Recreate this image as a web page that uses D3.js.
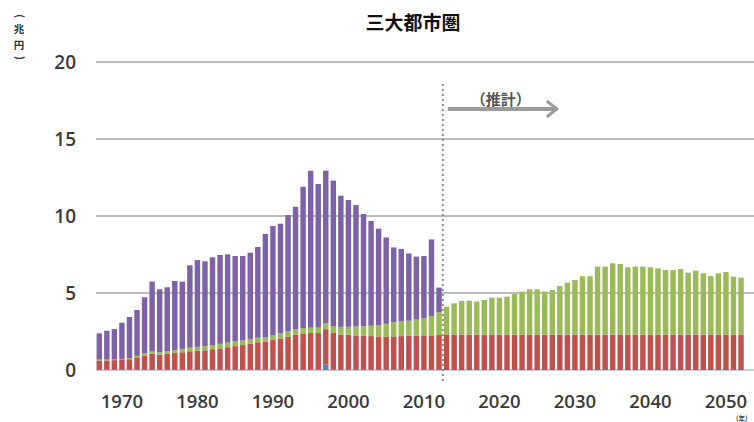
<!DOCTYPE html>
<html>
<head>
<meta charset="utf-8">
<script src="https://cdn.jsdelivr.net/npm/d3@7"></script>
<style>
  body { margin: 0; background: #fff; }
  svg { display: block; }
</style>
</head>
<body>
<svg width="754" height="422"></svg>
<script>
// years 1967-2052, actual values up to 2012, estimate from 2013
var years = d3.range(1967, 2053);
var lastActual = 2012;

// layer values (兆円), bottom to top
var blueVals = [
  0.06, 0.06, 0.06, 0.06, 0.06, 0.06, 0.06, 0.06, 0.06, 0.06,
  0.06, 0.06, 0.06, 0.06, 0.06, 0.06, 0.06, 0.06, 0.06, 0.06,
  0.06, 0.06, 0.06, 0.06, 0.06, 0.06, 0.06, 0.06, 0.06, 0.06,
  0.35, 0.06, 0.06, 0.06, 0.06, 0.06, 0.06, 0.06, 0.06, 0.06,
  0.06, 0.06, 0.06, 0.06, 0.06, 0.06,
  0, 0, 0, 0, 0, 0, 0, 0, 0, 0, 0, 0, 0, 0, 0, 0, 0, 0, 0, 0,
  0, 0, 0, 0, 0, 0, 0, 0, 0, 0, 0, 0, 0, 0, 0, 0, 0, 0, 0, 0
];
var redVals = [
  0.56, 0.56, 0.58, 0.59, 0.64, 0.76, 0.89, 0.99, 0.94, 0.99,
  1.04, 1.09, 1.16, 1.19, 1.22, 1.29, 1.34, 1.42, 1.49, 1.56,
  1.66, 1.74, 1.79, 1.89, 1.99, 2.09, 2.24, 2.32, 2.34, 2.34,
  2.30, 2.34, 2.24, 2.22, 2.19, 2.16, 2.14, 2.12, 2.11, 2.12,
  2.14, 2.16, 2.16, 2.19, 2.19, 2.21,
  2.3, 2.3, 2.3, 2.3, 2.3, 2.3, 2.3, 2.3, 2.3, 2.3,
  2.3, 2.3, 2.3, 2.3, 2.3, 2.3, 2.3, 2.3, 2.3, 2.3,
  2.3, 2.3, 2.3, 2.3, 2.3, 2.3, 2.3, 2.3, 2.3, 2.3,
  2.3, 2.3, 2.3, 2.3, 2.3, 2.3, 2.3, 2.3, 2.3, 2.3
];
var greenVals = [
  0.06, 0.06, 0.06, 0.07, 0.08, 0.10, 0.13, 0.15, 0.15, 0.17,
  0.18, 0.20, 0.23, 0.25, 0.27, 0.27, 0.30, 0.30, 0.30, 0.30,
  0.30, 0.30, 0.27, 0.30, 0.33, 0.35, 0.35, 0.34, 0.35, 0.35,
  0.40, 0.45, 0.50, 0.52, 0.57, 0.63, 0.68, 0.74, 0.83, 0.92,
  0.95, 0.98, 1.06, 1.10, 1.25, 1.48,
  1.81, 2.03, 2.18, 2.20, 2.14, 2.25, 2.40, 2.40, 2.46, 2.64,
  2.79, 2.94, 2.94, 2.79, 2.89, 3.15, 3.37, 3.54, 3.79, 3.79,
  4.41, 4.41, 4.63, 4.58, 4.37, 4.41, 4.41, 4.37, 4.30, 4.19,
  4.19, 4.25, 4.02, 4.15, 3.98, 3.80, 3.98, 4.06, 3.76, 3.70
];
var purpleVals = [
  1.70, 1.87, 1.96, 2.35, 2.66, 2.98, 3.64, 4.54, 4.09, 4.15,
  4.50, 4.39, 5.35, 5.64, 5.51, 5.70, 5.77, 5.73, 5.55, 5.48,
  5.60, 5.89, 6.71, 7.10, 7.12, 7.56, 7.95, 9.18, 10.19, 9.33,
  9.89, 9.45, 8.52, 8.24, 7.89, 7.28, 6.80, 6.26, 5.61, 4.86,
  4.71, 4.37, 4.08, 4.05, 4.98, 1.60,
  0, 0, 0, 0, 0, 0, 0, 0, 0, 0, 0, 0, 0, 0, 0, 0, 0, 0, 0, 0,
  0, 0, 0, 0, 0, 0, 0, 0, 0, 0, 0, 0, 0, 0, 0, 0, 0, 0, 0, 0
];

var seriesKeys = ["blue", "red", "green", "purple"];
var seriesColors = ["#4F81BD", "#C0504D", "#9BBB59", "#7E62A8"];
var yTicks = [0, 5, 10, 15, 20];
var xTickYears = [1970, 1980, 1990, 2000, 2010, 2020, 2030, 2040, 2050];

var title = "三大都市圏";
var unitChars = ["(", "兆", "円", ")"];
var estimateLabel = "（推計）";
var yearLabel = "(年)";

var rows = years.map(function(yr, i) {
  return { year: yr, blue: blueVals[i], red: redVals[i], green: greenVals[i], purple: purpleVals[i] };
});

var svg = d3.select("svg");
var font = "'Open Sans', 'Noto Sans', sans-serif";
var cjk = "'Noto Sans CJK JP', 'Noto Sans', sans-serif";

var step = 7.55;
var x = d3.scaleBand()
  .domain(years)
  .range([95.5, 95.5 + step * years.length])
  .paddingInner(0.28)
  .paddingOuter(0.14);

var y = d3.scaleLinear()
  .domain([0, 20])
  .range([370, 62]);

// grid lines
svg.append("g")
  .selectAll("line")
  .data(yTicks)
  .enter()
  .append("line")
  .attr("x1", 96)
  .attr("x2", 754)
  .attr("y1", function(d) { return y(d); })
  .attr("y2", function(d) { return y(d); })
  .attr("stroke", function(d) { return d === 0 ? "#b4bccb" : "#a6a6a6"; })
  .attr("stroke-width", 1.5);

// stacked bars
var stack = d3.stack().keys(seriesKeys);
var layers = stack(rows);

svg.append("g")
  .selectAll("g")
  .data(layers)
  .enter()
  .append("g")
  .attr("fill", function(d, i) { return seriesColors[i]; })
  .selectAll("rect")
  .data(function(d) { return d; })
  .enter()
  .append("rect")
  .attr("x", function(d) { return x(d.data.year); })
  .attr("width", x.bandwidth())
  .attr("y", function(d) { return y(d[1]); })
  .attr("height", function(d) { return y(d[0]) - y(d[1]); });

// y labels
svg.append("g")
  .selectAll("text")
  .data(yTicks)
  .enter()
  .append("text")
  .attr("x", 76)
  .attr("y", function(d) { return y(d); })
  .attr("dy", "0.36em")
  .attr("text-anchor", "end")
  .style("font-family", font)
  .style("font-size", "19px")
  .style("font-weight", 600)
  .attr("fill", "#3a3a3a")
  .text(function(d) { return d; });

// x labels
svg.append("g")
  .selectAll("text")
  .data(xTickYears)
  .enter()
  .append("text")
  .attr("x", function(d) { return x(d) + x.bandwidth() / 2; })
  .attr("y", 408)
  .attr("text-anchor", "middle")
  .style("font-family", font)
  .style("font-size", "18.5px")
  .style("font-weight", 600)
  .attr("fill", "#3a3a3a")
  .text(function(d) { return d; });

// title
svg.append("text")
  .attr("x", 413)
  .attr("y", 30)
  .attr("text-anchor", "middle")
  .style("font-family", cjk)
  .style("font-size", "19px")
  .style("font-weight", 700)
  .attr("fill", "#111")
  .text(title);

// unit label, stacked vertically (parentheses turned for vertical text)
var unitY = [16, 29, 45, 58];
var unit = svg.append("g")
  .style("font-family", cjk)
  .style("font-size", "10.5px")
  .style("font-weight", 700)
  .attr("fill", "#333");
unit.selectAll("text")
  .data(unitChars)
  .enter()
  .append("text")
  .attr("text-anchor", "middle")
  .attr("transform", function(d, i) {
    if (d === "(" || d === ")") return "translate(19," + unitY[i] + ") rotate(90)";
    return "translate(19," + unitY[i] + ")";
  })
  .attr("dy", function(d) { return (d === "(" || d === ")") ? "0.3em" : "0.38em"; })
  .text(function(d) { return d; });

// year unit
svg.append("text")
  .attr("x", 736)
  .attr("y", 421.3)
  .style("font-family", cjk)
  .style("font-size", "6.5px")
  .style("font-weight", 700)
  .attr("fill", "#444")
  .text(yearLabel);

// estimate divider between last actual and first estimate year
var divX = (x(lastActual) + x(lastActual + 1) + x.bandwidth()) / 2;
svg.append("line")
  .attr("x1", divX)
  .attr("x2", divX)
  .attr("y1", 84)
  .attr("y2", 382)
  .attr("stroke", "#8c8c8c")
  .attr("stroke-width", 2)
  .attr("stroke-dasharray", "2,3");

// estimate arrow and label
var arrowY = 109;
svg.append("line")
  .attr("x1", divX + 5)
  .attr("x2", divX + 113)
  .attr("y1", arrowY)
  .attr("y2", arrowY)
  .attr("stroke", "#9a9a9a")
  .attr("stroke-width", 4);
svg.append("path")
  .attr("d", "M" + (divX + 104) + "," + (arrowY - 8) + " L" + (divX + 114) + "," + arrowY + " L" + (divX + 104) + "," + (arrowY + 8))
  .attr("fill", "none")
  .attr("stroke", "#9a9a9a")
  .attr("stroke-width", 3);

svg.append("text")
  .attr("x", divX + 28)
  .attr("y", 105)
  .style("font-family", cjk)
  .style("font-size", "15px")
  .style("font-weight", 700)
  .attr("fill", "#555")
  .text(estimateLabel);
</script>
</body>
</html>
